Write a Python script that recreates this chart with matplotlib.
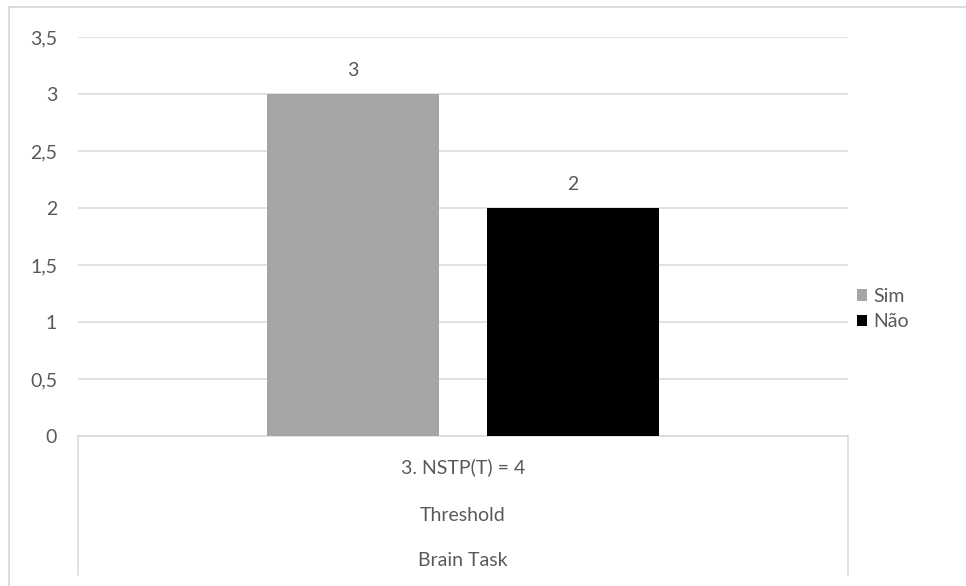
import matplotlib.pyplot as plt
from matplotlib.lines import Line2D
from matplotlib.patches import Patch
from matplotlib.ticker import FuncFormatter

plt.rcParams['font.family'] = ['Lato', 'DejaVu Sans']

# chart values
series = ['Sim', 'Não']
values = [3, 2]
colors = ['#A5A5A5', '#000000']
category_levels = ['3. NSTP(T) = 4', 'Threshold', 'Brain Task']
y_ticks = [0, 0.5, 1, 1.5, 2, 2.5, 3, 3.5]

text_col = '#595959'
line_col = '#D9D9D9'
fs = 14
W, H = 966, 586

fig = plt.figure(figsize=(W / 100, H / 100), dpi=100)
ax = fig.add_axes([78 / W, 150 / H, 770 / W, 399 / H])

bar_w = 0.223
offsets = [-0.1425, 0.1425]
for name, val, col, off in zip(series, values, colors, offsets):
    ax.bar(off, val, width=bar_w, color=col, zorder=3, label=name)
    ax.annotate(f'{val}', (off, val), xytext=(0, 17), textcoords='offset points',
                ha='center', va='center', fontsize=fs, color=text_col)

ax.set_xlim(-0.5, 0.5)
ax.set_ylim(0, 3.5)
ax.set_yticks(y_ticks)
ax.yaxis.set_major_formatter(FuncFormatter(lambda v, p: f'{v:g}'.replace('.', ',')))
ax.tick_params(axis='y', length=0, pad=15, labelsize=fs, labelcolor=text_col)
ax.set_xticks([])
ax.grid(axis='y', color=line_col, linewidth=1.1, zorder=0)
for s in ['top', 'right', 'left']:
    ax.spines[s].set_visible(False)
ax.spines['bottom'].set_color(line_col)
ax.spines['bottom'].set_linewidth(1.1)

# multi-level category box under the axis
for xv in [0.0, 1.0]:
    ax.add_line(Line2D([xv, xv], [0, -0.348], transform=ax.transAxes,
                       color=line_col, linewidth=1.1, clip_on=False))
for lbl, yv in zip(category_levels, [-0.078, -0.2, -0.313]):
    ax.text(0.5, yv, lbl, transform=ax.transAxes, ha='center', va='center',
            fontsize=fs, color=text_col)

handles = [Patch(facecolor=c, edgecolor='none') for c in colors]
fig.legend(handles, series, loc='center left', bbox_to_anchor=(849 / W, 1 - 309 / H),
           frameon=False, fontsize=fs, labelcolor=text_col, handlelength=0.55,
           handleheight=0.55, handletextpad=0.3, labelspacing=0.45, borderaxespad=0)

# outer chart frame
fig.add_artist(Line2D([9 / W, 9 / W], [0, 1 - 7 / H], color=line_col, linewidth=1.3))
fig.add_artist(Line2D([9 / W, 1], [1 - 7 / H, 1 - 7 / H], color=line_col, linewidth=1.3))

fig.savefig('out.png', dpi=100, facecolor='white')
